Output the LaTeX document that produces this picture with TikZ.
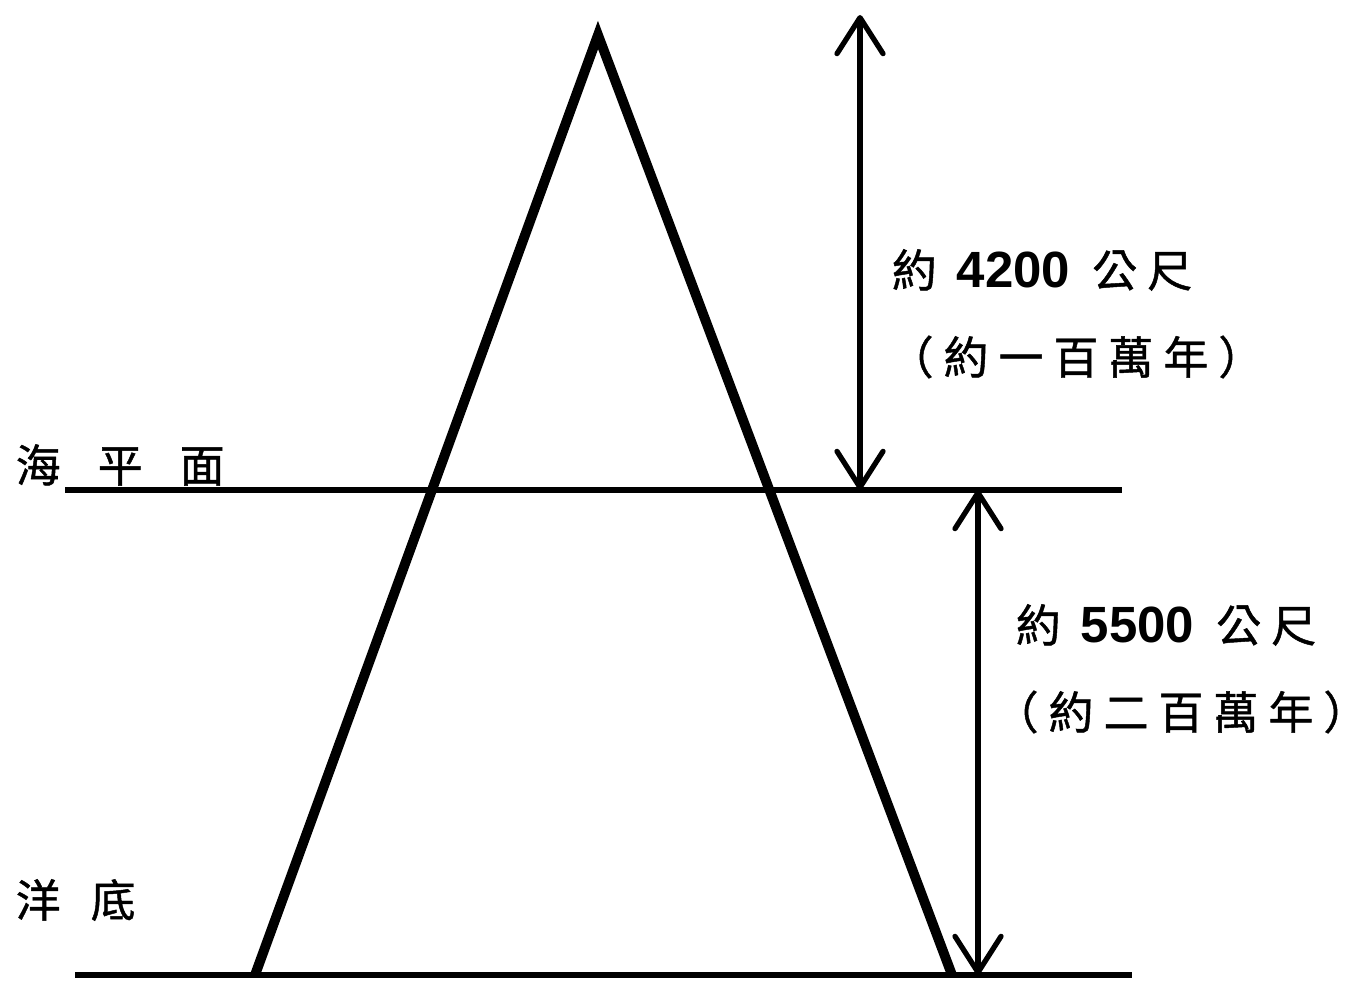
\documentclass[tikz,border=0pt]{standalone}
\usepackage{fontspec}
\newfontfamily\cjk[FakeBold=1]{Noto Sans CJK TC}
\newfontfamily\numfont{Liberation Sans}
\newcommand\tg{\hspace{0.1cm}}
\usetikzlibrary{arrows.meta}
\tikzset{
  flank/.style={line width=2.8pt, line join=miter},
  sealine/.style={line width=1.5pt},
  gauge/.style={line width=1.5pt, {Straight Barb[round,length=3.6mm,width=4.6mm]}-{Straight Barb[round,length=3.6mm,width=4.6mm]}},
  note/.style={font=\cjk\fontsize{12.8}{15}\selectfont, inner sep=0pt}
}
\begin{document}
\begin{tikzpicture}
    \useasboundingbox (0,0) rectangle (13.69,9.81);
    % volcano outline
    \coordinate (apex) at (5.98,9.46);
    \coordinate (footL) at (2.55,0.06);
    \coordinate (footR) at (9.52,0.06);
    \draw[flank] (footL) -- (apex) -- (footR);

    % sea level and ocean floor
    \coordinate (seaW) at (0.65,4.91);
    \coordinate (seaE) at (11.22,4.91);
    \coordinate (bedW) at (0.75,0.06);
    \coordinate (bedE) at (11.32,0.06);
    \draw[sealine] (seaW) -- (seaE);
    \draw[sealine] (bedW) -- (bedE);
    \node[note, anchor=west] (sea) at (0.15,5.16) {海\hspace{0.37cm}平\hspace{0.37cm}面};
    \node[note, anchor=west] (bed) at (0.15,0.81) {洋\hspace{0.30cm}底};

    % heights
    \coordinate (topA) at (8.60,9.66);
    \coordinate (botA) at (8.60,4.91);
    \coordinate (topB) at (9.78,4.91);
    \coordinate (botB) at (9.78,0.06);
    \draw[gauge] (topA) -- (botA);
    \draw[gauge] (topB) -- (botB);

    \node[note] (hA) at (10.42,7.11) {約\hspace{0.2cm}{\numfont\bfseries\fontsize{14.5}{16}\selectfont 4200}\hspace{0.22cm}公\tg 尺};
    \node[note] (tA) at (10.61,6.24) {（\tg 約\tg 一\tg 百\tg 萬\tg 年\tg ）\kern-0.3cm};
    \node[note] (hB) at (11.66,3.56) {約\hspace{0.2cm}{\numfont\bfseries\fontsize{14.5}{16}\selectfont 5500}\hspace{0.22cm}公\tg 尺};
    \node[note] (tB) at (11.66,2.69) {（\tg 約\tg 二\tg 百\tg 萬\tg 年\tg ）\kern-0.3cm};
\end{tikzpicture}
\end{document}
